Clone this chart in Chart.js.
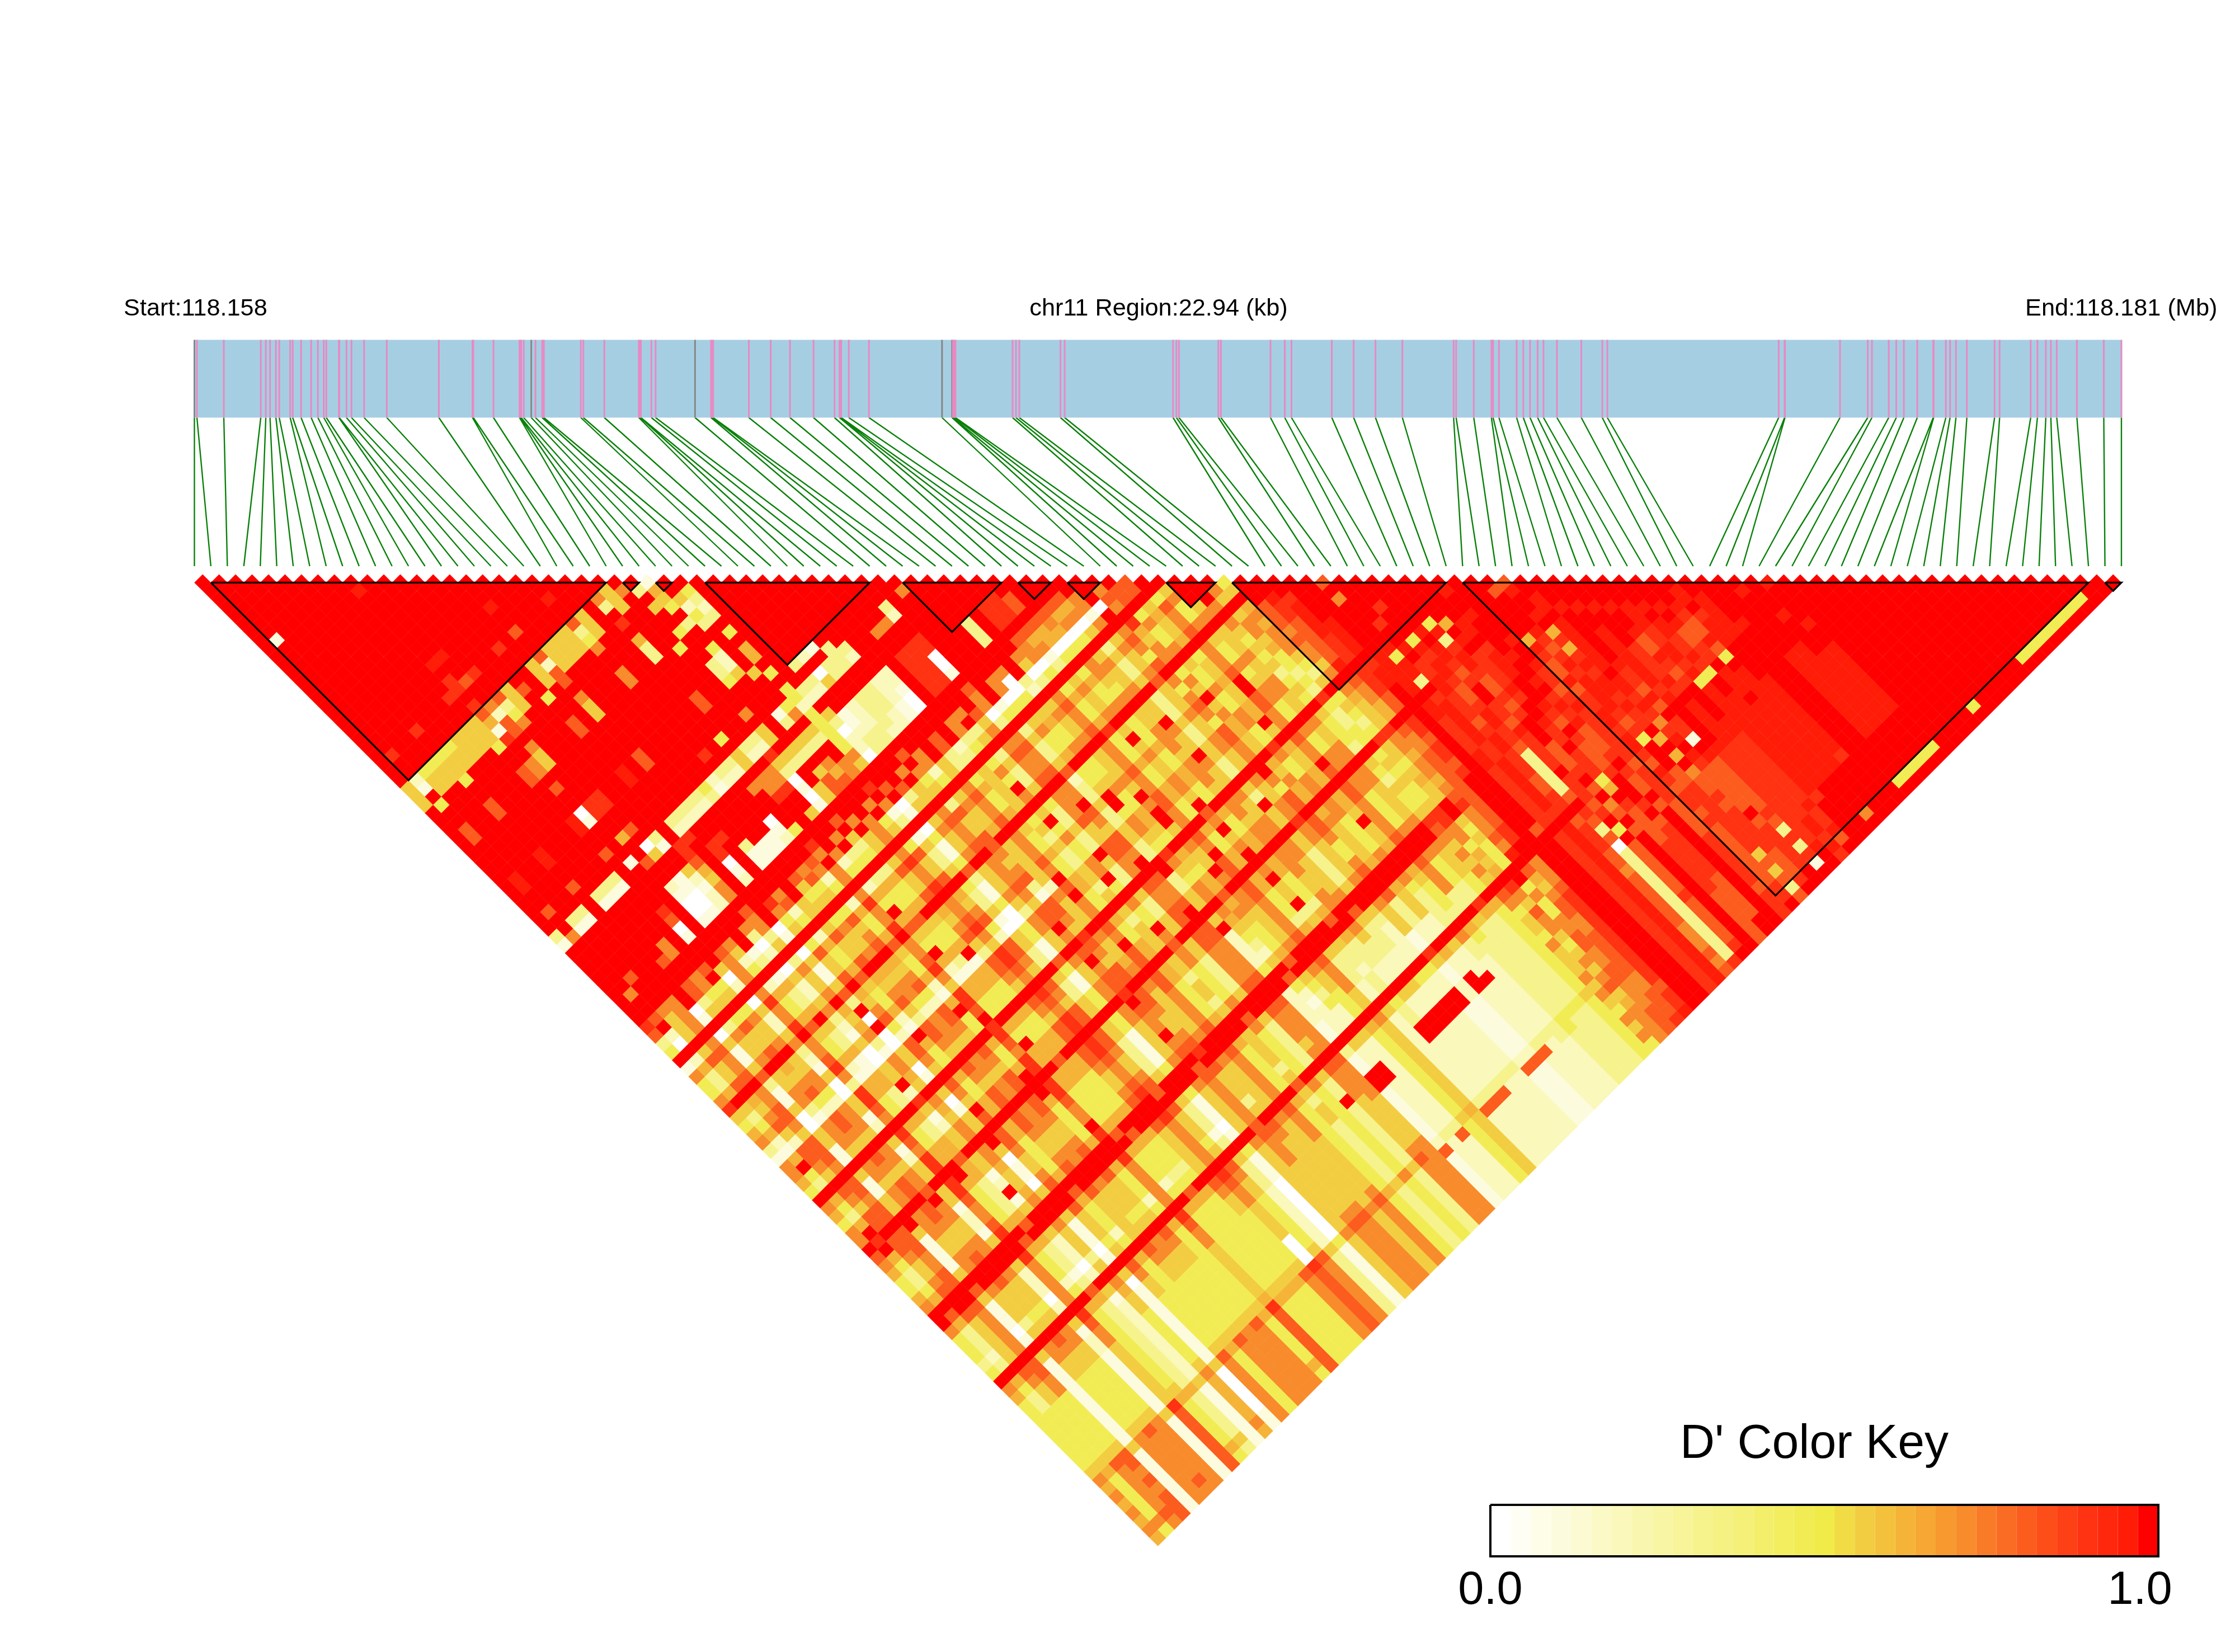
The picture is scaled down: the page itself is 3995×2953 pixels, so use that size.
<!DOCTYPE html>
<html><head><meta charset="utf-8">
<script src="https://cdn.jsdelivr.net/npm/chart.js@4/dist/chart.umd.min.js"></script>
<style>html,body{margin:0;padding:0;background:#fff}canvas{display:block}</style>
</head><body><canvas id="c" width="3995" height="2953"></canvas>
<script>
// SNP positions in kb from the region start
const snpKb=[0,.03,.35,.79,.85,.9,.97,1.01,1.14,1.17,1.27,1.39,1.47,1.54,1.57,1.72,1.725,1.81,1.87,2.02,2.29,2.91,3.31,3.32,3.56,3.87,3.88,3.89,3.92,4.01,4.06,4.14,4.16,4.6,4.63,4.88,5.29,5.31,5.315,5.44,5.49,5.96,6.15,6.17,6.175,6.6,6.86,7.09,7.37,7.62,7.68,7.69,7.7,7.79,8.03,8.9,9.02,9.03,9.05,9.06,9.74,9.78,9.82,10.31,10.36,11.65,11.69,11.72,12.19,12.22,12.81,12.98,13.06,13.54,13.8,14.06,14.38,14.99,15.02,15.23,15.44,15.46,15.53,15.74,15.82,15.9,15.99,16.06,16.22,16.51,16.76,16.82,18.86,18.93,18.935,19.59,19.92,19.97,20.17,20.26,20.35,20.51,20.7,20.705,20.85,20.9,20.97,21.1,21.43,21.49,21.86,21.94,22.04,22.1,22.17,22.41,22.73,22.94];
const greySnps=[0,29,41,55,56];
const regionKb=22.94;
// haplotype blocks: first and last SNP index
const blocks=[[1,25],[26,27],[28,29],[31,41],[43,49],[50,52],[53,55],[59,62],[63,76],[77,115],[116,117]];
// D' value of each level code
const levelValues={'0':0,'1':.08,'2':.18,'3':.3,'4':.46,'5':.55,'6':.64,'7':.72,'8':.8,'9':.9,'a':.96,'r':1};
const keyLabels=['0.0','1.0'];
// D' rows: entry j-1 holds the pairs (i,j) for i=0..j-1, grouped in tens
const ldRows=[
"r","rr","rrr","rrrr","rrrrr","rrrrrr","rrrrrrr","rrrrrrrr","r1rrrrrrr","rrrrrrrrrr",
"rrrrrrrrra r","rrrrrrrrrr rr","rrrrrrrrrr rrr","rrrrrrrrrr rrrr","rrrrrrrrrr rrrrr","rrrrrrrrrr rrrrrr","rrrrrrrrrr rrrrrrr","rrrrrrrrrr rrrrrrrr","rrrrrrrrrr rrrrrrrrr",
"rrrrrrrrra arrrrrarrr",
"rrrrrrrrrr rrrrrrrrrr r",
"rrrrrrrrr9 rrrrrrrrrr rr",
"r9rr9rrr99 89rr9r8rrr arr",
"rrrrrrrrrr rrrrrrrrrr rrrr",
"rrrrrrrrr9 rrrrrrrrrr rrrrr",
"5244445558 785rr58555 85r75r",
"5155555556 2358r52555 35r357r",
"5r55555551 845rr58555 45rr5r31",
"r4rr4rrr49 87rr4r8rrr 7rr9rrr6r",
"rrrrrrrrrr rrrrrrrrrr rrrrrr55rr",
"rrrrrrrrrr 7rrrrr7rrr rrr6rrr454 r",
"r8rr8rrr87 5rrr8r5rrr 7rr3rrrr23 rr",
"r8rr8rrr87 5rrr8r5rrr 7rr3rr4342 rrr",
"rrrrrrrrrr rrrrrrrrrr rrrrr4rr33 rrrr",
"rrrrrrrrr8 rrrrrrrrrr rrrrrrrrrr rrrrr",
"rrrrrrrrrr rrrrrrrrrr rrrrrrr4r4 rrrrrr",
"rrrrrrrrrr rrrrrrrrrr rrrrrr32rr rrrrrrr",
"rarrarrra0 99rrar8rrr rrr8rr32r6 rrrrrrrr",
"rarrarrra1 99rrar8rrr rrr8rr45r6 rrrrrrrrr",
"rrrrrrrrrr rrrrrrrrrr rrrrrrrr5r rrrrrrrrrr",
"rrrrrrrrrr rrrrrrrrrr rrrrrrrrr4 rrrrrrrrrr r",
"r8rr8rrr8r 68rrrrrrrr 9r4rr7rrrr r321rrrrrr rr",
"rrrrrrrrrr rrrrrrrrrr rrrrrrrrr4 rrrr3rrrrr rrr",
"3r33r333r1 r03r333342 335335r144 330333rrrr 3r7r",
"1711r111rr 851r222231 225225r372 225332rr77 2rrrr",
"rrrrrrrrrr rrr99rrrrr rrrr9rrrr4 rrrrrrrrrr rrrrrr",
"rrrrrrrrrr rrr9rrrrrr r777555554 5rrrrrrrrr rrrrrrr",
"rrrrrrrrrr 2158r99rrr rr77333334 3123322r99 9rrrrrrr",
"rrrrrrrr9r 1126r9rrrr rr990rrrr4 0123322r99 9rrrrrrrr",
"rrrrrrrr8r 0015r0r3rr 0rrr1r57r4 2223321r99 0rrr3r99rr",
"rr8rrr7r0r 0027r1r111 1rrr058677 2333210r99 0rrr3r998r r",
"r7rrr87r1r 1127r2r111 24r5158875 0332210r99 1rrr3r998r rr",
"rrrrrrrrrr rrrrrrrrrr rrrrrrrrrr rrrrrrrrrr rrrrrrrrrr rrr",
"rrrrrrrrrr rrr8rrrrrr r9rr8rrr9r rr8rrrrrrr 8rrrrr8888 88rr",
"9877r878r8 7r77r97r87 87r7r7r7r8 r7r7r8r77r 7r77r77667 667rr",
"8r57r87r57 5r37r78r58 7r7r5r7r7r 8r77r8r7r8 7r70r57766 777r7r",
"3257034407 2103042544 2723357410 3542532335 0100300100 0010888",
"4057155527 4325154555 4744457531 5554533457 3444234344 457r788r",
"rrrrrrrrrr rrrrrrrrrr rrrrrrrrrr rrrrrrrrrr rrrrrrrrrr rrrrrrrrr",
"1257034407 2103042544 2723357410 5735745437 7355574547 535794545r",
"7688578759 6657586878 6966689854 7887865758 8576786767 757867687r r",
"4357155527 4325154555 4744457531 5755745437 7344574545 535754574r rr",
"4357155527 4325154557 47r4457531 5755745r37 7344574544 5354745745 r74",
"7688578759 6657586878 6966689854 7886865758 8567786777 7578776877 755r",
"9rrr8rrr7r 8r7r8r8rrr 8r88rrrrr8 rr8rrrrrrr r8rrrr9rrr rr8rrrrrrr rrrrr",
"5567356537 5536365666 5755567643 5775754547 7244574545 5357454755 756rrr",
"4357155527 4325r54555 4744457531 5755745r37 7344574r45 5354745745 5778arr",
"6478177718 4316074777 48r4478731 5775743437 r355574547 r357545745 476899rr",
"7688578759 6657r86878 6966689854 7885865758 85r7786767 7578r76877 55789arr8",
"3257034407 2103042544 2723r57410 5735743435 73r4574547 5357545r45 46778arrrr",
"1125012203 1101021322 1511135200 3512r43435 5344r74545 5354745r55 54788arr7rr",
"7688578759 665758r878 6966689854 78878657r8 8576786767 r578676877 34578aarrrrr",
"7r88578759 6657586878 r966689854 7885r65758 8576r86767 7578676877 434789arrrrrr",
"6478177718 43r6074777 4844478731 5r75743r37 7355r74547 535754r745 543589arrr9rrrrr",
"4357155527 4325154555 4r44457531 5755745437 r344574r45 5357545745 4357a9arr9rrrrr",
"rrrrrrrrrr rr9rrrrrrr r9rrrrrrr8 rr9rrrrrrr rr9rrrr8rr rrrrr9rrrr r9rrrrrrrr rrrrrr",
"7688578759 6657586878 6966689854 7887865758 8r76786767 757r676877 5447899aar rrrrrarr",
"6478177718 4316074777 4844478731 5r75743437 7355574r47 5357545745 435679aa4a 4a4rrrrr",
"4357155527 4325154555 47r4457531 5755r45437 73445r4545 5r54745745 434579aaar ara6rrrrr",
"7688578759 66575r6878 6966689854 7886865r58 8576r86767 7578676r77 443568raa9 9a3raarr88",
"7r88578759 6657586878 r966689854 7887865758 r576786r67 7578676877 344568ra39 aa9aarrrrar",
"r9rrrrr8rr r8rrrrrrrr rrr8rrrrrr r9rrrrr8rr rrr8rrrrrr rr9rrrrrrr rr99rrrrra a9arrrrrrrrr",
"8r88r78r59 r657r86878 r966689854 7r87865758 8576786767 7578676877 545789ra9a 98a99rrrrrarr",
"7688578759 6657586878 6966689854 7885865758 8r67786r67 7578776877 455779raa9 8999ararra arrrr",
"6478177718 4316074777 4844478731 5775743437 7255574547 5357545745 344678r9a9 8r89aar6ar rar",
"4357155527 4325154555 4744457531 5755745437 7244574545 535454r745 555789r9a9 9r89arra96 ararrra",
"4357155527 43r5154555 4744457531 5r55745437 7234574r45 5354545745 446789r9a8 a99arra989 arrarrr",
"6478177718 4316074777 4r44478731 5775743437 7224573337 5357545745 445688r9a9 a989ra9896 arrrarrr",
"7688578759 6657586878 6966689854 7887865758 8456786567 7578676877 555789ra9a 989rrr98a9 ararrarrr",
"rrrrrrrrrr r8rrrrrrrr rr8rrrr8rr rr9rrrrrrr rrr8rrrr8r rrrrrrrrrr 99r88rra9a 9arra98a9a ararraarrr",
"r8rr8rrrrr 8rrrrr8rrr rrr8rrrrrr r8rrrrr8rr rr8rrrrrrr 8rrrrrrrrr 89r98rr9a9 89ra9a98a9 araraarararr",
"7688578759 6657586878 6966689854 7887865758 8245785567 5578676877 77578rr9a9 39r989a9aa raa989araa rr",
"4357155527 4325154555 4744457531 5755745437 7224573335 3353545745 57478rr9a9 3989ra99aa a9a989aa9r arr",
"4357155527 4325154555 4744457531 5755745437 7213573333 3253534745 74578rr9a8 398r989aa9 a9a9aa9889 arrr",
"4357155527 4325154555 4744457531 5755745437 7224473233 3253534745 56489rr9a8 3r89889a9a 98a99a988a arrarr",
"3257034407 2103042544 2723357410 5735743435 7122452322 2212234334 75479rr9a9 3999889989 aa9a89a9aa arrrra",
"4357155527 4325154555 4744457531 5755745437 7122452322 2212233334 564arr8999 89r9899a99 98a99a998a aarrrrrr",
"rrrrrrrrrr r8rrrrrrrr rrr8rrrrrr r8rrrr8rrr rrrrrrrrrr rr9rrrrr9r rrrrrrrrrr r9849r9a4r 7rrrr44r4r rrrrrrrr",
"7688578759 6657586878 6966689854 7887865758 8355675455 4456576566 89r87rr9a8 98r6r989r6 99rarararr rrrrarrrrr",
"6478177718 4316074777 4844478731 5775743437 7122452322 2212234334 77467rr9a9 897rr898rr a9rararaar rrrrrrrrr r",
"4357155527 4325154555 4744457531 5755745437 7122452322 2212233334 45757rr9a9 3r89r89ar6 r1raraaaar rrrrrarrrr r",
"4357155527 4325154555 4744457531 57557454r7 7rr2452rrr rr2r223334 58478rr9a9 84r89r998r arraaaaraa rraarrrrrr rr",
"4444144415 4324144444 4544445420 5555543435 7rr2452rrr rr2rr23334 57489rr9a8 0r88r89887 9aaaaaaaaa rraarrrrrr rrr",
"4444144415 4324144444 4544445420 5555543435 5122452222 2112223334 47789rr9a8 38r88r8998 88999aaaaa rraaaarrrr rrrr",
"4444144415 4324144444 4544445420 5555543435 5122452222 2112223334 75779rr9a7 38r89r8998 88999aaaaa rraaaarrrr rrrrr",
"4444144415 4324144444 4544445420 5555543435 5122452222 2112223334 54879rr9a8 38r99r8899 88999aaaaa rraaaarrrr rrrrrr",
"4444144415 4324144444 4544440420 5555543435 5122452222 2112223334 55889rr9a8 38r99r8998 88999aaaaa rraaaarrrr rrrrrrr",
"4444144415 4324144444 4544440420 5555543435 5122452222 2112223334 57789rr9a8 38r99r9899 88999aaaaa rraaaarrrr rrrrrrrr",
"5555155515 5325155555 5655550520 5775743437 7122452222 2112223334 75789rr9a8 38r99r9899 r8999aaaaa rraaaarrrr rrrrrrrrr",
"7688578759 6657586878 6966689854 7887865758 7233563333 3223334445 57889rr9a8 39r99r9899 89999aaaaa rraaaarrrr rrrrrrrrrr",
"6478177718 4316074777 4844478731 5775743437 7828458882 2888234334 78889rr9a8 38r98r9899 98999aaaa9 rraaaarrrr rrrrrrrrrr r",
"7477177718 4316074777 4844478731 5775743437 7122452222 2112223334 55779rr9a7 38r88r9859 9399a9rrrr rrrrrrrrrr rrrrrrrrrr rr",
"6478177718 4316074777 4844478731 5775743437 7122452222 2112223334 46779rr9a7 38r88r9888 999a9rrrrr rrrrrrrrrr rrrrrrrrrr rrr",
"7477177718 4316074777 4844478731 5775743437 7122452222 2112223334 77788rr9a7 38r88r8858 939a9rrrrr rrrrrrrrrr rrrrrrrrrr rrrr",
"6478177718 4316074777 4844478731 5775743437 7122452222 2112223334 57889rr9a8 38r88r9988 99a9arrrrr rrrrrrrrrr rrrrrrrrrr rrrrr",
"7788178718 6517174777 6844478731 5775743437 7122452222 2112223334 77889rr9a7 39r8rr9939 r1ra8rr7rr r44444rrrr 4rrrrr4444 4444rr",
"6478177718 4316174777 4844478731 5775743437 7122452222 2112223334 4789arr9a8 9rr8rr9r8r rrr9rrrrrr rrrrrrrrrr rrrrrrrrrr rrrrrrr"
];
// ---- layout of the drawing (canvas pixels) ----
const W=3995,H=2953,X0=347.5,DX=29.44,Y0=1041.4,DY=14.72;
const kX0=2664,kW=1194;
const yOf=p=>(p-Y0)/DY;
const stops=[[0,[255,255,255]],[.5,[241,235,73]],[.56,[243,206,65]],[.64,[245,174,54]],[.72,[248,138,43]],[.8,[251,98,32]],[.9,[255,52,18]],[.97,[255,29,8]],[1,[255,0,0]]];
function ramp(v){const q=Math.round(v*32)/32;for(let s=1;s<stops.length;s++){if(q<=stops[s][0]){const a=stops[s-1],b=stops[s],t=(q-a[0])/(b[0]-a[0]);return `rgb(${a[1].map((c,n)=>Math.round(c+(b[1][n]-c)*t)).join(',')})`;}}return 'rgb(255,0,0)';}
// cells
const cells=[],cols=[];
ldRows.forEach((row,idx)=>{const j=idx+1;const s=row.replace(/\s+/g,'').padEnd(j,'r').slice(0,j);
 for(let i=0;i<j;i++){cells.push({x:(i+j)/2,y:j-i-1});cols.push(ramp(levelValues[s[i]]??1));}});
const gap={x:NaN,y:NaN};
const toIdx=kb=>kb/regionKb*(snpKb.length-1);
const pink=[],grey=[],green=[];
snpKb.forEach((kb,k)=>{const seg=[{x:toIdx(kb),y:yOf(607.5)},{x:toIdx(kb),y:yOf(746.5)},gap];(greySnps.includes(k)?grey:pink).push(...seg);
 green.push({x:toIdx(kb),y:yOf(746.5)},{x:k,y:yOf(1012)},gap);});
const tri=[];blocks.forEach(([a,b])=>tri.push({x:a,y:0},{x:b,y:0},{x:(a+b)/2,y:b-a},{x:a,y:0},gap));
const line=(data,color,w,order,extra)=>Object.assign({type:'scatter',data,showLine:true,borderColor:color,borderWidth:w,pointRadius:0,spanGaps:false,tension:0,order,clip:false,borderCapStyle:'butt',borderJoinStyle:'miter'},extra||{});
const keySteps=[];for(let k=0;k<=33;k++)keySteps.push({x:k/33,y:yOf(2736)});
const textPlugin={id:'texts',afterDraw(ch){const c=ch.ctx,kx=ch.scales.xKey,f='"Liberation Sans",Arial,sans-serif';c.save();c.fillStyle='#000';c.textBaseline='alphabetic';
 c.font='43.3px '+f;c.textAlign='left';c.fillText('Start:118.158',221,564);c.textAlign='center';c.fillText('chr11 Region:22.94 (kb)',2071,564);c.textAlign='left';c.fillText('End:118.181 (Mb)',3620,564);
 c.font='86px '+f;c.textAlign='center';c.fillText("D' Color Key",3243,2606);
 c.font='83px '+f;c.fillText(keyLabels[0],kx.getPixelForValue(0),2867);c.fillText(keyLabels[1],kx.getPixelForValue(1)-33,2867);c.restore();}};
new Chart(document.getElementById('c'),{type:'scatter',
 data:{datasets:[
  line(tri,'#000',3.2,1),
  line(pink,'#E78AC3',3,2),line(grey,'#888888',3,2),
  line([{x:0,y:yOf(677)},{x:117,y:yOf(677)}],'#A6CEE3',139,3),
  line(green,'#0A800A',2.4,4),
  {type:'scatter',data:cells,pointStyle:'rectRot',pointRadius:14.95,pointBackgroundColor:cols,pointBorderWidth:0,borderWidth:0,order:5,clip:false},
  line(keySteps,'#000',92,6,{xAxisID:'xKey',segment:{borderColor:c=>ramp(c.p0DataIndex/32)}}),
  line([{x:0,y:yOf(2690)},{x:1,y:yOf(2690)},{x:1,y:yOf(2782)},{x:0,y:yOf(2782)},{x:0,y:yOf(2690)}],'#000',4,0,{xAxisID:'xKey'})
 ]},
 options:{responsive:false,animation:false,events:[],devicePixelRatio:1,layout:{padding:0,autoPadding:false},
  plugins:{legend:{display:false},tooltip:{enabled:false},title:{display:false}},
  scales:{x:{type:'linear',display:false,min:-X0/DX,max:(W-X0)/DX},
   xKey:{type:'linear',display:false,axis:'x',min:-kX0/kW,max:(W-kX0)/kW},
   y:{type:'linear',display:false,reverse:true,min:-Y0/DY,max:(H-Y0)/DY}}},
 plugins:[textPlugin]});
</script>
</body></html>
